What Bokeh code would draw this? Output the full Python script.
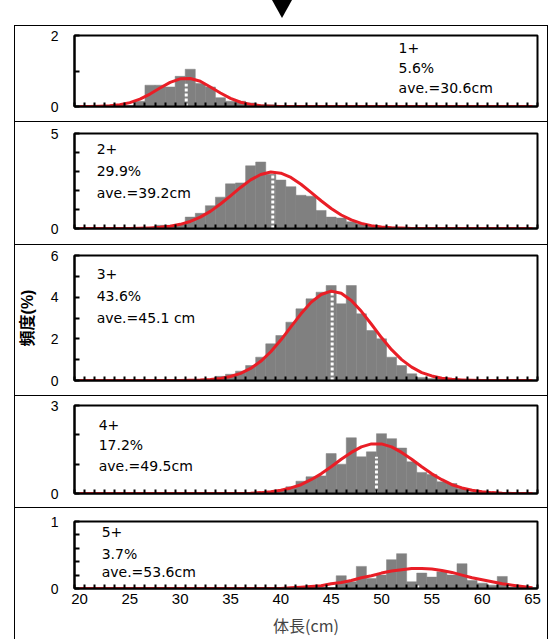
from bokeh.plotting import figure
from bokeh.models import Range1d, FixedTicker, Label, Div
from bokeh.layouts import column, row
from bokeh.embed import file_html
from bokeh.resources import INLINE

# ---------------- data ----------------
lengths = [20, 21, 22, 23, 24, 25, 26, 27, 28, 29, 30, 31, 32, 33, 34, 35, 36, 37, 38, 39,
           40, 41, 42, 43, 44, 45, 46, 47, 48, 49, 50, 51, 52, 53, 54, 55, 56, 57, 58, 59,
           60, 61, 62, 63, 64, 65]
x_tick_labels = [20, 25, 30, 35, 40, 45, 50, 55, 60, 65]

bars_1 = [0, 0, 0, 0, 0, 0, 0.15, 0.6, 0.6, 0.55, 0.85, 1.05, 0.65, 0.55, 0.25, 0.15, 0.15, 0.1, 0.05, 0.05,
          0, 0, 0, 0, 0, 0, 0, 0, 0, 0, 0, 0, 0, 0, 0, 0, 0, 0, 0, 0, 0, 0, 0, 0, 0, 0]
curve_1 = [0, 0, 0.01, 0.02, 0.05, 0.11, 0.21, 0.35, 0.52, 0.68, 0.78, 0.79, 0.71, 0.55, 0.38, 0.23, 0.12, 0.06, 0.02, 0.01,
           0, 0, 0, 0, 0, 0, 0, 0, 0, 0, 0, 0, 0, 0, 0, 0, 0, 0, 0, 0, 0, 0, 0, 0, 0, 0]

bars_2 = [0, 0, 0, 0, 0, 0, 0, 0, 0.17, 0.17, 0.2, 0.6, 0.8, 1.2, 1.65, 2.35, 2.4, 3.3, 3.5, 2.85,
          2.55, 2.2, 1.75, 1.7, 0.95, 0.6, 0.55, 0.35, 0.25, 0.15, 0.08, 0.08, 0, 0, 0, 0, 0, 0, 0, 0,
          0, 0, 0, 0, 0, 0]
curve_2 = [0, 0, 0, 0, 0, 0, 0.01, 0.03, 0.06, 0.12, 0.22, 0.37, 0.60, 0.90, 1.29, 1.72, 2.16, 2.56, 2.84, 2.97,
           2.91, 2.69, 2.33, 1.90, 1.46, 1.05, 0.71, 0.45, 0.27, 0.15, 0.08, 0.04, 0.02, 0, 0, 0, 0, 0, 0, 0,
           0, 0, 0, 0, 0, 0]

bars_3 = [0, 0, 0, 0, 0, 0, 0, 0, 0, 0, 0, 0, 0, 0.05, 0.2, 0.3, 0.45, 0.72, 1.12, 1.76,
          2.16, 2.8, 3.44, 3.92, 4.24, 4.56, 3.68, 4.56, 3.2, 2.4, 2.0, 1.12, 0.72, 0.32, 0.15, 0.1, 0.05, 0, 0, 0,
          0, 0, 0, 0, 0, 0]
curve_3 = [0, 0, 0, 0, 0, 0, 0, 0, 0, 0, 0, 0.01, 0.02, 0.05, 0.10, 0.19, 0.34, 0.58, 0.92, 1.38,
           1.94, 2.57, 3.20, 3.75, 4.13, 4.29, 4.19, 3.84, 3.32, 2.70, 2.06, 1.48, 1.00, 0.64, 0.38, 0.22, 0.11, 0.06, 0.03, 0.01,
           0, 0, 0, 0, 0, 0]

bars_4 = [0, 0, 0, 0, 0, 0, 0, 0, 0, 0, 0, 0, 0, 0, 0, 0, 0, 0, 0, 0.05,
          0.1, 0.23, 0.42, 0.57, 0.6, 1.36, 1.0, 1.9, 1.25, 1.42, 2.04, 1.87, 1.55, 1.08, 0.72, 0.65, 0.4, 0.34, 0.17, 0.05,
          0, 0, 0, 0, 0, 0]
curve_4 = [0, 0, 0, 0, 0, 0, 0, 0, 0, 0, 0, 0, 0, 0, 0, 0, 0, 0.01, 0.03, 0.06,
           0.11, 0.19, 0.30, 0.47, 0.67, 0.91, 1.17, 1.40, 1.59, 1.69, 1.69, 1.59, 1.40, 1.17, 0.91, 0.67, 0.47, 0.30, 0.19, 0.11,
           0.06, 0.03, 0.01, 0, 0, 0]

bars_5 = [0, 0, 0, 0, 0, 0, 0, 0, 0, 0, 0, 0, 0, 0, 0, 0, 0, 0, 0, 0,
          0, 0, 0, 0, 0, 0, 0.19, 0.1, 0.33, 0.15, 0.2, 0.43, 0.52, 0.1, 0.23, 0.17, 0.25, 0.2, 0.37, 0.12,
          0.08, 0.05, 0.18, 0, 0, 0]
curve_5 = [0, 0, 0, 0, 0, 0, 0, 0, 0, 0, 0, 0, 0, 0, 0, 0, 0, 0, 0, 0,
           0, 0.01, 0.02, 0.03, 0.04, 0.07, 0.09, 0.12, 0.16, 0.19, 0.23, 0.26, 0.28, 0.30, 0.30, 0.29, 0.27, 0.24, 0.20, 0.16,
           0.13, 0.10, 0.07, 0.05, 0.03, 0.01]

ages = ["1+", "2+", "3+", "4+", "5+"]
shares = ["5.6%", "29.9%", "43.6%", "17.2%", "3.7%"]
ave_labels = ["ave.=30.6cm", "ave.=39.2cm", "ave.=45.1 cm", "ave.=49.5cm", "ave.=53.6cm"]
means = [30.6, 39.2, 45.1, 49.5, 53.6]
mean_marker_tops = [0.64, 2.8, 4.2, 1.25, 0.06]
y_max = [2, 5, 6, 3, 1]
y_labeled = [[0, 2], [0, 5], [0, 2, 4, 6], [0, 3], [0, 1]]
y_minor = [[1], [1, 2, 3, 4], [1, 3, 5], [1, 2], [0.2, 0.4, 0.6, 0.8]]
y_title = "頻度(%)"
x_title = "体長(cm)"

bars_all = [bars_1, bars_2, bars_3, bars_4, bars_5]
curves_all = [curve_1, curve_2, curve_3, curve_4, curve_5]

# ---------------- layout / style ----------------
FIG_W = 532
fig_heights = [95, 122, 150, 111, 131]
b_top = [9, 11, 10, 9, 13]
b_bottom = [15, 16, 15, 14, 45]
text_x = [51.7, 21.7, 21.7, 21.9, 22.2]
text_y = [[1.66, 1.08, 0.51], [4.21, 3.05, 1.89], [5.09, 4.06, 3.02], [2.35, 1.64, 0.95], [0.84, 0.51, 0.25]]

BAR_C = "#808080"
RED = "#e91e26"
NUM_FONT = "Liberation Sans"
JP_FONT = "Noto Sans CJK JP"
TITLE_FONT = "Liberation Sans, Noto Sans CJK JP"
ANN_FONT = "DejaVu Sans"

bin_edges = [v - 0.5 for v in lengths] + [lengths[-1] + 0.5]

panels = []
for i in range(5):
    p = figure(width=FIG_W, height=fig_heights[i], output_backend="svg", toolbar_location=None,
               x_range=Range1d(lengths[0] - 0.5, lengths[-1] + 0.5),
               y_range=Range1d(0, y_max[i]),
               min_border_left=58, min_border_right=10,
               min_border_top=b_top[i], min_border_bottom=b_bottom[i])
    p.background_fill_color = "white"
    p.border_fill_color = "white"
    p.outline_line_color = "black"
    p.outline_line_width = 2
    p.xgrid.visible = False
    p.ygrid.visible = False

    p.vbar(x=lengths, top=bars_all[i], width=1, fill_color=BAR_C, line_color=BAR_C, line_width=0.5)
    p.segment(x0=[means[i]], y0=[0], x1=[means[i]], y1=[mean_marker_tops[i]],
              line_color="white", line_width=3, line_dash="3 2")
    p.line(x=lengths, y=curves_all[i], line_color=RED, line_width=3, line_join="round")

    xa = p.xaxis[0]
    if i == 4:
        xa.ticker = FixedTicker(ticks=x_tick_labels, minor_ticks=bin_edges)
        xa.axis_label = x_title
        xa.axis_label_text_font = JP_FONT
        xa.axis_label_text_font_size = "16px"
        xa.axis_label_text_font_style = "normal"
        xa.axis_label_standoff = 6
    else:
        xa.ticker = FixedTicker(ticks=[], minor_ticks=bin_edges)
    xa.major_tick_in = 0
    xa.major_tick_out = 0
    xa.minor_tick_in = 4
    xa.minor_tick_out = 0
    xa.minor_tick_line_width = 2
    xa.minor_tick_line_color = "black"
    xa.axis_line_width = 2
    xa.axis_line_color = "black"
    xa.major_label_text_font = NUM_FONT
    xa.major_label_text_font_size = "15px"
    xa.major_label_text_color = "black"
    xa.major_label_standoff = 5

    ya = p.yaxis[0]
    ya.ticker = FixedTicker(ticks=y_labeled[i], minor_ticks=y_minor[i])
    ya.major_tick_in = 5
    ya.major_tick_out = 0
    ya.minor_tick_in = 5
    ya.minor_tick_out = 0
    ya.major_tick_line_width = 2
    ya.minor_tick_line_width = 2
    ya.axis_line_width = 2
    ya.axis_line_color = "black"
    ya.major_label_text_font = NUM_FONT
    ya.major_label_text_font_size = "14px"
    ya.major_label_text_color = "black"
    ya.major_label_standoff = 16

    if i == 2:
        ya.axis_label = y_title
        ya.axis_label_text_font = TITLE_FONT
        ya.axis_label_text_font_size = "16px"
        ya.axis_label_text_font_style = "bold"
        ya.axis_label_text_color = "black"
        ya.axis_label_standoff = 12

    for txt, ty in zip([ages[i], shares[i], ave_labels[i]], text_y[i]):
        p.add_layout(Label(x=text_x[i], y=ty, text=txt, text_font=ANN_FONT,
                           text_font_size="14px", text_baseline="middle", text_align="left",
                           text_color="black"))
    panels.append(p)


def hline():
    return Div(text="", width=FIG_W, height=1, margin=0, styles={"background-color": "black"})


def vline(h):
    return Div(text="", width=1, height=h, margin=0, styles={"background-color": "black"})


body_items = []
for p in panels:
    body_items.append(hline())
    body_items.append(p)
body = column(*body_items, spacing=0)
body_h = sum(fig_heights) + 5

arrow = Div(text='<div style="position:absolute;left:272px;top:0px;width:0;height:0;'
                 'border-left:10px solid transparent;border-right:10px solid transparent;'
                 'border-top:18px solid black"></div>',
            width=548, height=25, margin=0)
mid = row(Div(text="", width=14, height=body_h, margin=0), vline(body_h), body, vline(body_h), spacing=0)
root = column(arrow, mid, spacing=0)

open("out.html", "w").write(file_html(root, INLINE))
